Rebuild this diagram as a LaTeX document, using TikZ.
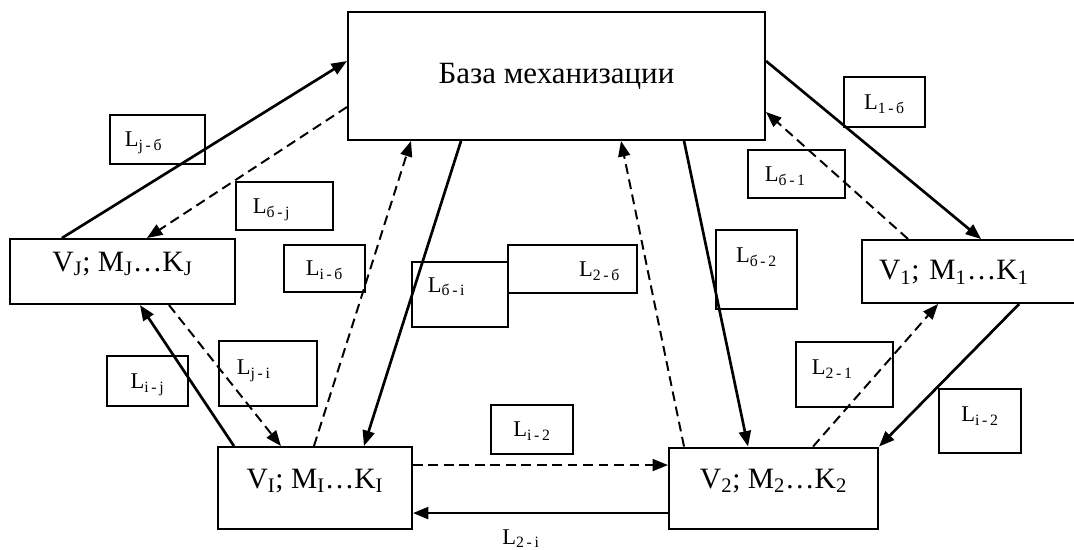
\documentclass[tikz,border=0pt]{standalone}
\usepackage{fontspec}
\setmainfont{Liberation Serif}
\usetikzlibrary{arrows.meta, positioning}

\begin{document}
\begin{tikzpicture}[
  x=0.025cm, y=-0.025cm,
  site/.style={draw, line width=1.4pt, inner sep=0pt,
               font=\fontsize{21}{23}\selectfont},
  dist/.style={draw, line width=1.3pt, inner sep=0pt,
               text height=10.5pt, text depth=0pt,
               font=\fontsize{16}{17}\selectfont},
  arr/.style={-{Triangle[length=11pt, width=8.5pt]}, line width=1.9pt},
  darr/.style={-{Triangle[length=11pt, width=8.5pt]}, line width=1.4pt,
               dash pattern=on 7pt off 4pt},
]
\useasboundingbox (0,0) rectangle (1074,549);

\node[site, minimum width=10.425cm, minimum height=3.2cm,
      font=\fontsize{22}{24}\selectfont] (baza) at (556.5,76)
  {База механизации};
\node[site, minimum width=5.625cm, minimum height=1.625cm,
      text height=8pt, text depth=8pt,
      below left=2.425cm and 2.775cm of baza] (vj)
  {V\textsubscript{J}; M\textsubscript{J}\ldots K\textsubscript{J}};
\node[site, minimum width=5.45cm, minimum height=1.575cm,
      text width=4.6cm, align=left, text height=12pt, text depth=0pt,
      below right=2.45cm and 2.375cm of baza] (v1)
  {V\textsubscript{1}; M\textsubscript{1}\ldots K\textsubscript{1}};
\node[site, minimum width=4.85cm, minimum height=2.05cm,
      text height=8pt, text depth=8pt,
      below right=3.525cm and -0.475cm of vj] (vi)
  {V\textsubscript{I}; M\textsubscript{I}\ldots K\textsubscript{I}};
\node[site, minimum width=5.225cm, minimum height=2.025cm,
      text height=8pt, text depth=8pt, right=6.375cm of vi] (v2)
  {V\textsubscript{2}; M\textsubscript{2}\ldots K\textsubscript{2}};

\node[dist, minimum width=2.375cm, minimum height=1.225cm,
      text width=1.625cm, align=left] (ljb) at (157.5,139.5)
  {L\textsubscript{j\,-\,б}};
\node[dist, minimum width=2.425cm, minimum height=1.2cm,
      text width=1.575cm, align=left] (lbj) at (284.5,206)
  {L\textsubscript{б\,-\,j}};
\node[dist, minimum width=2.025cm, minimum height=1.175cm] (lib)
  at (324.5,268.5) {L\textsubscript{i\,-\,б}};
\node[dist, minimum width=2.4cm, minimum height=1.625cm,
      text width=1.6cm, align=left, text depth=14pt] (lbi) at (460,294.5)
  {L\textsubscript{б\,-\,i}};
\node[dist, minimum width=3.225cm, minimum height=1.2cm,
      text width=2.375cm, align=right] (l2b) at (572.5,269)
  {L\textsubscript{2\,-\,б}};
\node[dist, minimum width=2.025cm, minimum height=1.975cm,
      text depth=20pt] (lb2) at (756.5,269.5) {L\textsubscript{б\,-\,2}};
\node[dist, minimum width=2.025cm, minimum height=1.25cm] (l1b)
  at (884.5,102) {L\textsubscript{1\,-\,б}};
\node[dist, minimum width=2.425cm, minimum height=1.2cm,
      text width=1.575cm, align=left] (lb1) at (796.5,174)
  {L\textsubscript{б\,-\,1}};
\node[dist, minimum width=2.025cm, minimum height=1.25cm] (lij)
  at (147.5,381) {L\textsubscript{i\,-\,j}};
\node[dist, minimum width=2.45cm, minimum height=1.625cm,
      text width=1.55cm, align=left, text depth=9pt] (lji) at (268,373.5)
  {L\textsubscript{j\,-\,i}};
\node[dist, minimum width=2.05cm, minimum height=1.225cm] (li2)
  at (532,429.5) {L\textsubscript{i\,-\,2}};
\node[dist, minimum width=2.425cm, minimum height=1.625cm,
      text width=1.625cm, align=left, text depth=10.5pt] (l21)
  at (844.5,374.5) {L\textsubscript{2\,-\,1}};
\node[dist, minimum width=2.05cm, minimum height=1.6cm,
      text depth=10pt] (li2r) at (980,421) {L\textsubscript{i\,-\,2}};
\node[font=\fontsize{16}{17}\selectfont, anchor=base] (l2i) at (521,544)
  {L\textsubscript{2\,-\,i}};

\draw[arr] ([xshift=1.325cm]vj.north west) -- ([yshift=-1.25cm]baza.north west);
\draw[darr] ([yshift=-2.4cm]baza.north west) -- ([xshift=3.45cm]vj.north west);
\draw[arr] ([xshift=0.425cm]vi.north west) -- ([xshift=3.275cm]vj.south west);
\draw[darr] ([xshift=4cm]vj.south west) -- ([xshift=1.6cm]vi.north west);
\draw[darr] ([xshift=2.425cm]vi.north west) -- ([xshift=1.6cm]baza.south west);
\draw[arr] ([xshift=2.85cm]baza.south west) -- ([xshift=3.675cm]vi.north west);
\draw[darr] ([xshift=0.4cm]v2.north west) -- ([xshift=6.85cm]baza.south west);
\draw[arr] ([xshift=8.425cm]baza.south west) -- ([xshift=2cm]v2.north west);
\draw[arr] ([yshift=-1.25cm]baza.north east) -- ([xshift=3cm]v1.north west);
\draw[darr] ([xshift=1.175cm]v1.north west) -- ([yshift=-2.525cm]baza.north east);
\draw[darr] ([xshift=3.625cm]v2.north west) -- ([xshift=1.925cm]v1.south west);
\draw[arr] ([xshift=3.95cm]v1.south west) -- (v2.north east);
\draw[darr] ([yshift=0.575cm]vi.east) -- ([yshift=0.575cm]v2.west);
\draw[arr] ([yshift=-0.625cm]v2.west) -- ([yshift=-0.625cm]vi.east);
\end{tikzpicture}
\end{document}
